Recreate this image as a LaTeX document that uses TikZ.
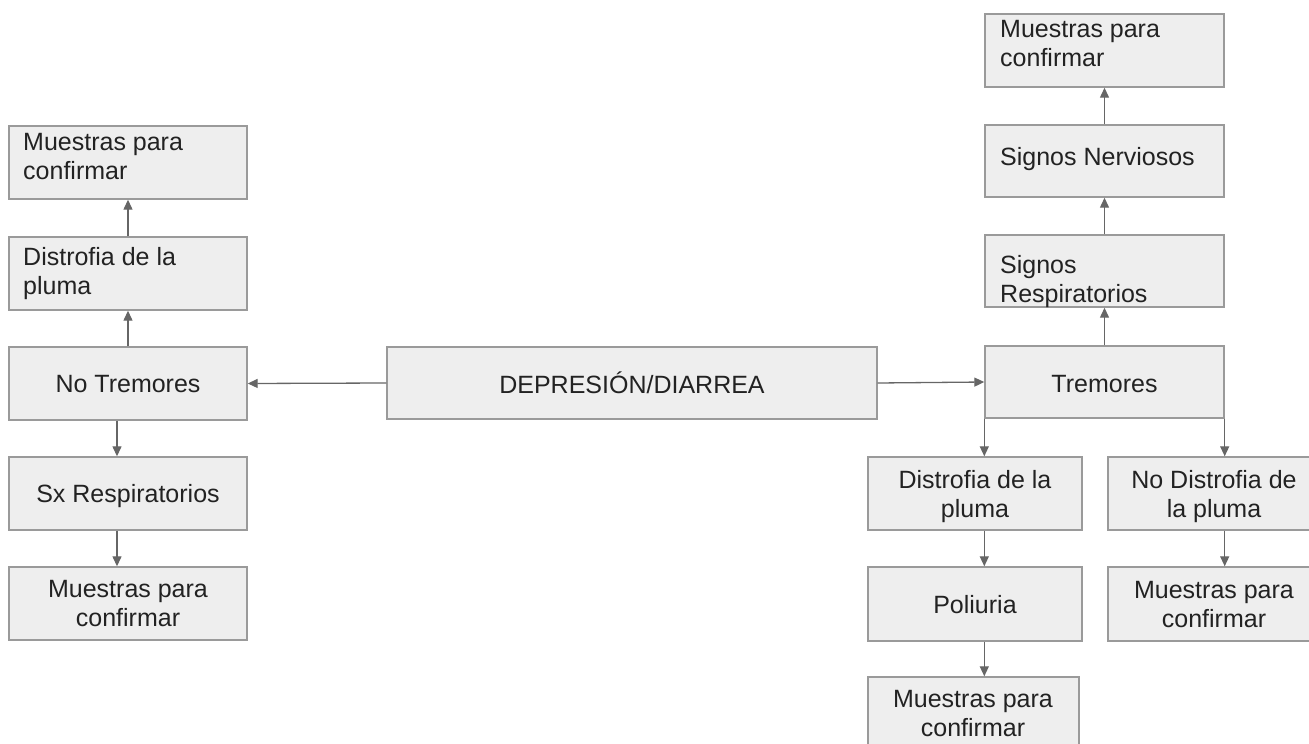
\documentclass[tikz,border=0pt]{standalone}
\usepackage{fontspec}
\setmainfont{Liberation Sans}
\usetikzlibrary{arrows.meta}
\definecolor{boxfill}{HTML}{EEEEEE}
\definecolor{boxline}{HTML}{9A9A9A}
\definecolor{arrowcol}{HTML}{666666}
\definecolor{txtcol}{HTML}{222222}
\begin{document}
\begin{tikzpicture}[x=1pt,y=-1pt,
  box/.style={draw=boxline, fill=boxfill, line width=1.4pt, rectangle, inner sep=0pt},
  lbl/.style={inner sep=0pt, font=\fontsize{25}{29}\selectfont, text=txtcol},
  arr/.style={draw=arrowcol, line width=1.3pt, -{Triangle[length=10pt,width=9pt]}}]
\useasboundingbox (0,0) rectangle (1309,744);
% boxes
\node[box, minimum width=238pt, minimum height=73pt] (l1) at (128,162.5) {};
\node[box, minimum width=238pt, minimum height=73pt] (l2) at (128,273.5) {};
\node[box, minimum width=238pt, minimum height=73pt] (l3) at (128,383.5) {};
\node[box, minimum width=238pt, minimum height=73pt] (l4) at (128,493.5) {};
\node[box, minimum width=238pt, minimum height=73pt] (l5) at (128,603.5) {};
\node[box, minimum width=490pt, minimum height=72pt] (c) at (632,383) {};
\node[box, minimum width=239pt, minimum height=73pt] (r1) at (1104.5,50.5) {};
\node[box, minimum width=239pt, minimum height=72pt] (r2) at (1104.5,161) {};
\node[box, minimum width=239pt, minimum height=72pt] (r3) at (1104.5,271) {};
\node[box, minimum width=239pt, minimum height=72pt] (r4) at (1104.5,382) {};
\node[box, minimum width=214pt, minimum height=73pt] (r5) at (975,493.5) {};
\node[box, minimum width=214pt, minimum height=74pt] (r6) at (975,604) {};
\node[box, minimum width=211pt, minimum height=74pt] (r7) at (973.5,714) {};
\node[box, minimum width=204pt, minimum height=73pt] (r8) at (1210,493.5) {};
\node[box, minimum width=204pt, minimum height=74pt] (r9) at (1210,604) {};
% connectors
\draw[arr] (c.west) -- (l3.east);
\draw[arr] (c.east) -- (r4.west);
\draw[arr] (l3.north) -- (l2.south);
\draw[arr] (l2.north) -- (l1.south);
\draw[arr] ([xshift=-11pt]l3.south) -- ([xshift=-11pt]l4.north);
\draw[arr] ([xshift=-11pt]l4.south) -- ([xshift=-11pt]l5.north);
\draw[arr] (r4.north) -- (r3.south);
\draw[arr] (r3.north) -- (r2.south);
\draw[arr] (r2.north) -- (r1.south);
\draw[arr] (r4.south west) -- (r5.north -| r4.south west);
\draw[arr] (r4.south east) -- (r8.north -| r4.south east);
\draw[arr] (r5.south -| r4.south west) -- (r6.north -| r4.south west);
\draw[arr] (r6.south -| r4.south west) -- (r7.north -| r4.south west);
\draw[arr] (r8.south -| r4.south east) -- (r9.north -| r4.south east);
% labels
\node[lbl, anchor=north west, align=left] (l1t) at (23,129.7) {\strut Muestras para\\\strut confirmar};
\node[lbl, anchor=north west, align=left] (l2t) at (23,244.7) {\strut Distrofia de la\\\strut pluma};
\node[lbl, anchor=north, align=center] (l3t) at (128,371.7) {\strut No Tremores};
\node[lbl, anchor=north, align=center] (l4t) at (128,481.7) {\strut Sx Respiratorios};
\node[lbl, anchor=north, align=center] (l5t) at (128,576.7) {\strut Muestras para\\\strut confirmar};
\node[lbl, anchor=north, align=center] (ct) at (632,371.7) {\strut DEPRESIÓN/DIARREA};
\node[lbl, anchor=north west, align=left] (r1t) at (1000,16.7) {\strut Muestras para\\\strut confirmar};
\node[lbl, anchor=north west, align=left] (r2t) at (1000,144.7) {\strut Signos Nerviosos};
\node[lbl, anchor=north west, align=left] (r3t) at (1000,252.7) {\strut Signos\\\strut Respiratorios};
\node[lbl, anchor=north, align=center] (r4t) at (1104.5,371.7) {\strut Tremores};
\node[lbl, anchor=north, align=center] (r5t) at (975,467.7) {\strut Distrofia de la\\\strut pluma};
\node[lbl, anchor=north, align=center] (r6t) at (975,592.7) {\strut Poliuria};
\node[lbl, anchor=north, align=center] (r7t) at (973,686.7) {\strut Muestras para\\\strut confirmar};
\node[lbl, anchor=north, align=center] (r8t) at (1214,467.7) {\strut No Distrofia de\\\strut la pluma};
\node[lbl, anchor=north, align=center] (r9t) at (1214,577.7) {\strut Muestras para\\\strut confirmar};
\end{tikzpicture}
\end{document}
